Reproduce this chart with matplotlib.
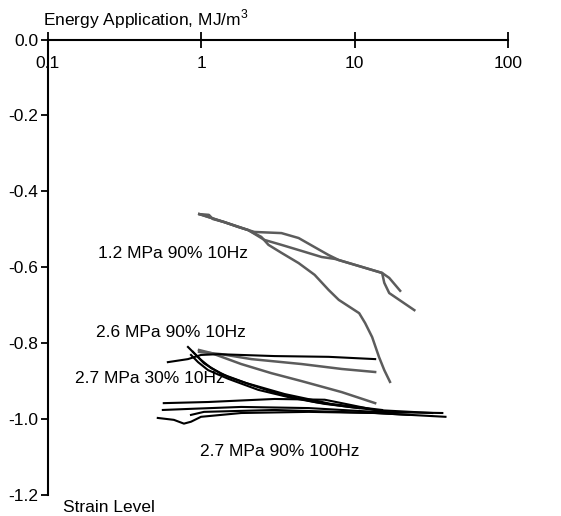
import matplotlib
matplotlib.use("Agg")
import matplotlib.pyplot as plt
from matplotlib.ticker import FixedLocator, NullLocator

plt.rcParams['font.family'] = ['Liberation Sans', 'DejaVu Sans']
plt.rcParams['axes.unicode_minus'] = False
plt.rcParams['mathtext.fontset'] = 'custom'
plt.rcParams['mathtext.rm'] = 'Liberation Sans'

GRAY = '#5c5c5c'
BLACK = '#000000'
FS = 12.5

# x ticks / y ticks
x_ticks = [0.1, 1, 10, 100]
x_tick_labels = ['0.1', '1', '10', '100']
y_ticks = [0.0, -0.2, -0.4, -0.6, -0.8, -1.0, -1.2]
y_tick_labels = ['0.0', '-0.2', '-0.4', '-0.6', '-0.8', '-1.0', '-1.2']

# 1.2 MPa 90% 10Hz (gray)
a_x = [0.97, 1.12, 1.19, 1.41, 1.74, 2.22, 3.33, 4.31, 5.48, 6.77, 7.88, 10.7, 15.1, 16.8, 19.8]
a_y = [-0.460, -0.462, -0.473, -0.481, -0.494, -0.507, -0.510, -0.523, -0.547, -0.568,
       -0.581, -0.597, -0.615, -0.628, -0.662]
b_x = [0.97, 1.41, 2.02, 2.58, 3.33, 4.51, 6.09, 7.42, 10.7, 15.1, 15.6, 16.8, 24.5]
b_y = [-0.460, -0.481, -0.502, -0.528, -0.541, -0.557, -0.573, -0.578, -0.597, -0.615,
       -0.641, -0.668, -0.713]
c_x = [0.97, 1.41, 2.02, 2.46, 2.74, 3.33, 4.31, 5.48, 6.77, 7.88, 10.7, 11.7, 13.0, 14.4, 15.6, 17.0]
c_y = [-0.460, -0.481, -0.502, -0.520, -0.541, -0.562, -0.589, -0.620, -0.660, -0.686,
       -0.721, -0.747, -0.784, -0.836, -0.871, -0.902]

# 2.6 MPa 90% 10Hz (gray)
d1_x = [0.966, 1.35, 2.12, 4.51, 8.24, 13.6]
d1_y = [-0.823, -0.829, -0.842, -0.855, -0.868, -0.876]
d2_x = [0.966, 1.16, 1.82, 2.86, 4.51, 8.24, 13.6]
d2_y = [-0.818, -0.826, -0.855, -0.879, -0.900, -0.929, -0.958]

# black line at about -0.84
e_x = [0.605, 0.818, 0.995, 1.29, 3.00, 6.77, 13.6]
e_y = [-0.850, -0.842, -0.831, -0.829, -0.834, -0.836, -0.842]

# 2.7 MPa 30% 10Hz (black)
f1_x = [0.818, 0.896, 0.995, 1.16, 1.50, 2.12, 3.33, 5.48, 9.16, 13.6]
f1_y = [-0.810, -0.826, -0.844, -0.866, -0.889, -0.910, -0.936, -0.955, -0.968, -0.976]
f2_x = [0.856, 0.952, 1.106, 1.50, 2.35, 3.87, 6.38, 10.7]
f2_y = [-0.831, -0.850, -0.871, -0.894, -0.923, -0.944, -0.960, -0.971]
f3_x = [0.882, 1.04, 1.35, 1.96, 3.49, 7.01, 15.1]
f3_y = [-0.823, -0.853, -0.881, -0.905, -0.934, -0.960, -0.976]

# 2.7 MPa 90% 100Hz (black)
g1_x = [0.569, 1.106, 3.00, 6.38, 8.24, 13.6, 32.1]
g1_y = [-0.958, -0.955, -0.947, -0.949, -0.958, -0.976, -0.984]
g2_x = [0.561, 0.856, 1.82, 5.01, 13.6, 37.3]
g2_y = [-0.976, -0.973, -0.968, -0.971, -0.981, -0.984]
g3_x = [0.520, 0.662, 0.770, 0.856, 0.995, 1.82, 5.01, 13.6, 39.1]
g3_y = [-0.997, -1.002, -1.012, -1.007, -0.994, -0.984, -0.981, -0.984, -0.994]
g4_x = [0.856, 1.04, 3.00, 13.6, 22.7]
g4_y = [-0.989, -0.981, -0.976, -0.984, -0.989]

gray_series = [(a_x, a_y), (b_x, b_y), (c_x, c_y), (d1_x, d1_y), (d2_x, d2_y)]
black_series = [(e_x, e_y), (f1_x, f1_y), (f2_x, f2_y), (f3_x, f3_y),
                (g1_x, g1_y), (g2_x, g2_y), (g3_x, g3_y), (g4_x, g4_y)]

fig = plt.figure(figsize=(5.61, 5.16), dpi=100)
ax = fig.add_axes([48 / 561, 1 - 495 / 516, (508 - 48) / 561, (495 - 39.5) / 516])

for xs, ys in gray_series:
    ax.plot(xs, ys, color=GRAY, lw=1.8, zorder=2)
for xs, ys in black_series:
    ax.plot(xs, ys, color=BLACK, lw=1.5, zorder=3)

ax.set_xscale('log')
ax.set_xlim(0.1, 100)
ax.set_ylim(-1.2, 0)

ax.spines['right'].set_visible(False)
ax.spines['bottom'].set_visible(False)
ax.spines['left'].set_linewidth(1.5)
ax.spines['top'].set_linewidth(1.5)

ax.xaxis.set_ticks_position('top')
ax.xaxis.set_major_locator(FixedLocator(x_ticks))
ax.xaxis.set_minor_locator(NullLocator())
ax.set_xticklabels(x_tick_labels)
ax.tick_params(axis='x', direction='inout', length=11, width=1.3, labelsize=FS, pad=-28.5)

ax.set_yticks(y_ticks)
ax.set_yticklabels(y_tick_labels)
ax.tick_params(axis='y', direction='out', length=5, width=1.3, labelsize=FS, pad=2)

# text labels (baseline positions)
tf = fig.transFigure
ax.text(43 / 561, 1 - 25 / 516, r'Energy Application, MJ/m$^{3}$', transform=tf, fontsize=FS, va='baseline')
ax.text(63 / 561, 1 - 511.5 / 516, 'Strain Level', transform=tf, fontsize=FS, va='baseline')
ax.text(98 / 561, 1 - 258 / 516, '1.2 MPa 90% 10Hz', transform=tf, fontsize=FS, va='baseline', zorder=1)
ax.text(96 / 561, 1 - 337 / 516, '2.6 MPa 90% 10Hz', transform=tf, fontsize=FS, va='baseline', zorder=1)
ax.text(75 / 561, 1 - 383 / 516, '2.7 MPa 30% 10Hz', transform=tf, fontsize=FS, va='baseline', zorder=1)
ax.text(200 / 561, 1 - 456.5 / 516, '2.7 MPa 90% 100Hz', transform=tf, fontsize=FS, va='baseline', zorder=1)

fig.savefig('out.png', dpi=100)
